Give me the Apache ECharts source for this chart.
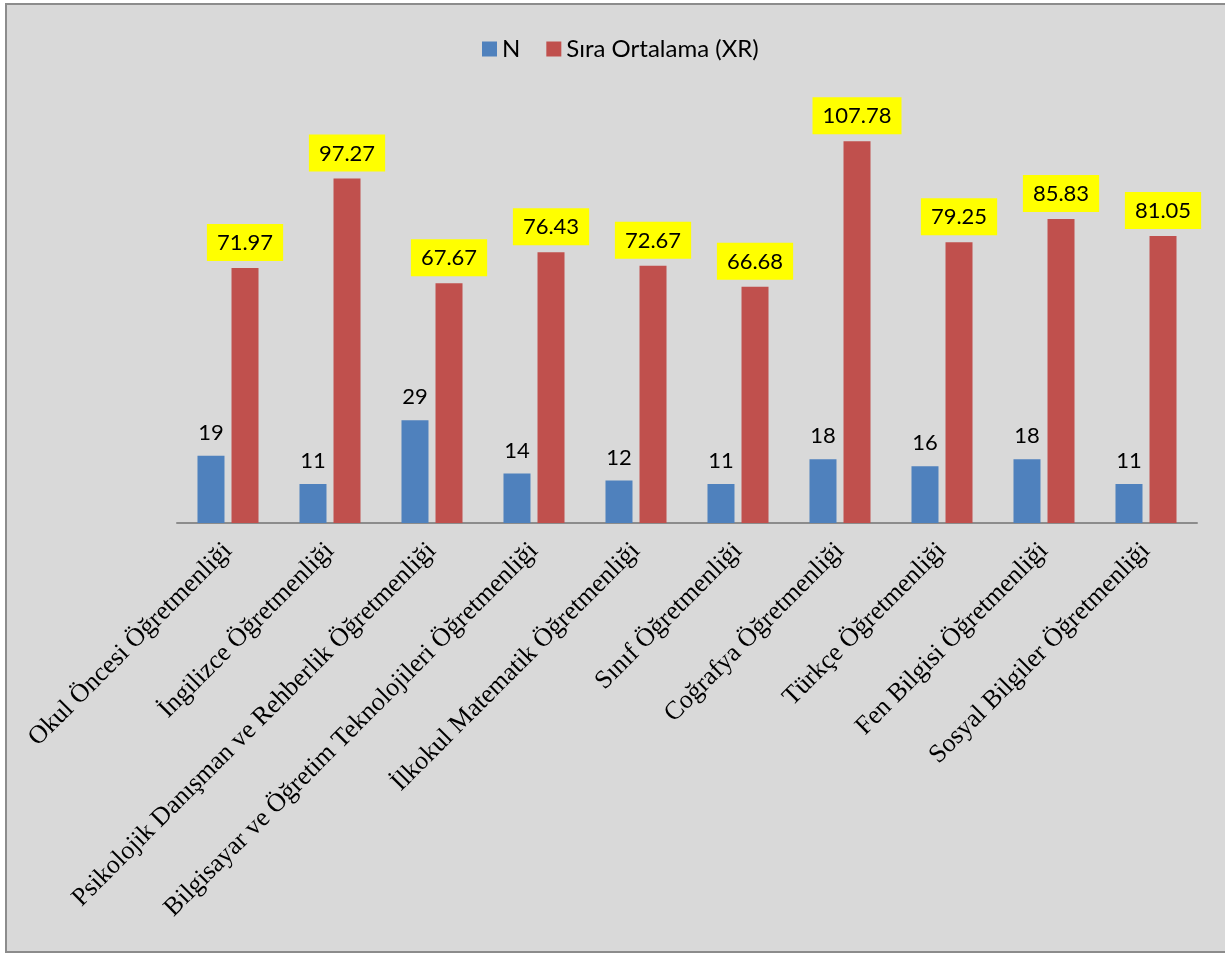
<!DOCTYPE html>
<html><head><meta charset="utf-8">
<script src="https://cdn.jsdelivr.net/npm/echarts@6/dist/echarts.min.js"></script>
<style>html,body{margin:0;padding:0;background:#fff;}#c{width:1225px;height:954px;}</style>
</head><body><div id="c"></div>
<script>
const categories = ["Okul Öncesi Öğretmenliği","İngilizce Öğretmenliği","Psikolojik Danışman ve Rehberlik Öğretmenliği","Bilgisayar ve Öğretim Teknolojileri Öğretmenliği","İlkokul Matematik Öğretmenliği","Sınıf Öğretmenliği","Coğrafya Öğretmenliği","Türkçe Öğretmenliği","Fen Bilgisi Öğretmenliği","Sosyal Bilgiler Öğretmenliği"];
const nValues = [19,11,29,14,12,11,18,16,18,11];
const xrValues = [71.97,97.27,67.67,76.43,72.67,66.68,107.78,79.25,85.83,81.05];
const seriesNames = ["N","Sıra Ortalama (XR)"];

const chart = echarts.init(document.getElementById('c'), null, {renderer:'canvas'});
chart.setOption({
  backgroundColor: 'transparent',
  animation: false,
  graphic: [{
    type: 'rect', z: -10, silent: true,
    shape: {x: 6, y: 4, width: 1230, height: 948},
    style: {fill: '#d9d9d9', stroke: '#8c8c8c', lineWidth: 2}
  }],
  legend: {
    top: 32, left: 477,
    itemWidth: 15, itemHeight: 15, itemGap: 26,
    icon: 'rect',
    textStyle: {fontFamily: 'Lato', fontSize: 24, color: '#000'},
    data: seriesNames
  },
  grid: {left: 177, right: 28, top: 98, bottom: 431, containLabel: false},
  xAxis: {
    type: 'category', data: categories,
    axisLine: {lineStyle: {color: '#8c8c8c', width: 2}},
    axisTick: {show: false},
    axisLabel: {rotate: 45, interval: 0, margin: 24, fontFamily: 'Liberation Serif', fontSize: 26, color: '#000'}
  },
  yAxis: {type: 'value', min: 0, max: 120, show: false, splitLine: {show: false}},
  series: [
    {name: seriesNames[0], type: 'bar', data: nValues, barWidth: 27, barGap: '26%',
     itemStyle: {color: '#4f81bd'},
     label: {show: true, position: 'top', distance: 12, fontFamily: 'Lato', fontSize: 22, color: '#000'}},
    {name: seriesNames[1], type: 'bar', data: xrValues, barWidth: 27,
     itemStyle: {color: '#c0504d'},
     label: {show: true, position: 'top', distance: 7, fontFamily: 'Lato', fontSize: 22, color: '#000',
       backgroundColor: '#ffff00', padding: [8, 10, 7, 10],
       formatter: p => p.value.toFixed(2)}}
  ]
});
</script></body></html>
